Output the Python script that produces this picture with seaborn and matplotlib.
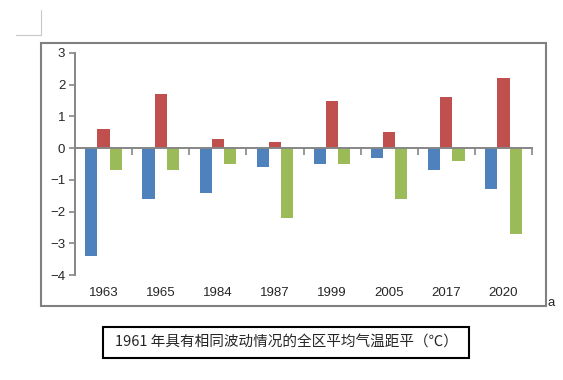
import numpy as np
import pandas as pd
import matplotlib
matplotlib.use("Agg")
import matplotlib.pyplot as plt
import seaborn as sns
from matplotlib.patches import Rectangle
from matplotlib.lines import Line2D

# =========================
# DATA
# =========================
years = ["1963", "1965", "1984", "1987", "1999", "2005", "2017", "2020"]
series_names = ["s1", "s2", "s3"]
blue_vals = [-3.4, -1.6, -1.4, -0.6, -0.5, -0.3, -0.7, -1.3]
red_vals = [0.6, 1.7, 0.3, 0.2, 1.5, 0.5, 1.6, 2.2]
green_vals = [-0.7, -0.7, -0.5, -2.2, -0.5, -1.6, -0.4, -2.7]
y_ticks = [-4, -3, -2, -1, 0, 1, 2, 3]
caption = "1961 年具有相同波动情况的全区平均气温距平（℃）"

colors = ["#4F81BD", "#C0504D", "#9BBB59"]

df = pd.DataFrame({
    "year": years * 3,
    "series": np.repeat(series_names, len(years)),
    "value": blue_vals + red_vals + green_vals,
})

# =========================
# STYLE
# =========================
sns.set_style("white")
plt.rcParams["font.family"] = ["Liberation Sans", "DejaVu Sans"]

W, H = 563, 380
fig = plt.figure(figsize=(W / 100, H / 100), dpi=100)
ax = fig.add_axes([75 / W, 105 / H, 457 / W, 222 / H])

sns.barplot(data=df, x="year", y="value", hue="series", order=years,
            hue_order=series_names, palette=colors, width=0.64, gap=0,
            saturation=1, linewidth=0, legend=False, ax=ax)

ax.set_xlim(-0.5, len(years) - 0.5)
ax.set_ylim(y_ticks[0], y_ticks[-1])
ax.set_xlabel("")
ax.set_ylabel("")

axis_gray = "#868686"
for side in ["top", "right"]:
    ax.spines[side].set_visible(False)
ax.spines["left"].set_color(axis_gray)
ax.spines["left"].set_linewidth(1.4)
ax.spines["bottom"].set_color(axis_gray)
ax.spines["bottom"].set_linewidth(1.4)
ax.spines["bottom"].set_position(("data", 0))

ax.set_yticks(y_ticks)
ax.tick_params(axis="y", direction="out", length=4, width=1.2, color=axis_gray,
               labelsize=9.5, pad=3, left=True)

# category boundary ticks on the zero line
ax.set_xticks(np.arange(-0.5, len(years)), minor=True)
ax.set_xticks(range(len(years)))
ax.set_xticklabels([])
ax.tick_params(axis="x", which="major", length=0)
ax.tick_params(axis="x", which="minor", direction="out", length=5, width=1.2,
               color=axis_gray, bottom=True)

# year labels at the bottom of the plot area
sec = ax.secondary_xaxis("bottom")
sec.set_xticks(range(len(years)), labels=years)
sec.spines["bottom"].set_visible(False)
sec.tick_params(length=0, labelsize=9.5, pad=9)

# =========================
# FRAME, CROP MARK, CAPTION
# =========================
def px_rect(x0, y0, x1, y1, **kw):
    return Rectangle((x0 / W, 1 - y1 / H), (x1 - x0) / W, (y1 - y0) / H,
                     transform=fig.transFigure, fill=False, **kw)

fig.patches.append(px_rect(41, 43, 546, 306, edgecolor="#808080", linewidth=1.5))
fig.lines.append(Line2D([41 / W, 41 / W], [1 - 10 / H, 1 - 35 / H],
                        transform=fig.transFigure, color="#C8C8C8", lw=0.8))
fig.lines.append(Line2D([16 / W, 41 / W], [1 - 35 / H, 1 - 35 / H],
                        transform=fig.transFigure, color="#C8C8C8", lw=0.8))
fig.text(548 / W, 1 - 303 / H, "a", fontsize=9.5, ha="left", va="center")

fig.patches.append(px_rect(103, 327, 469, 358, edgecolor="black", linewidth=1.5))
fig.text(286 / W, 1 - 342.5 / H, caption, fontsize=10.5, ha="center", va="center",
         family=["Noto Sans CJK SC", "DejaVu Sans"])

fig.savefig("out.png", dpi=100)
